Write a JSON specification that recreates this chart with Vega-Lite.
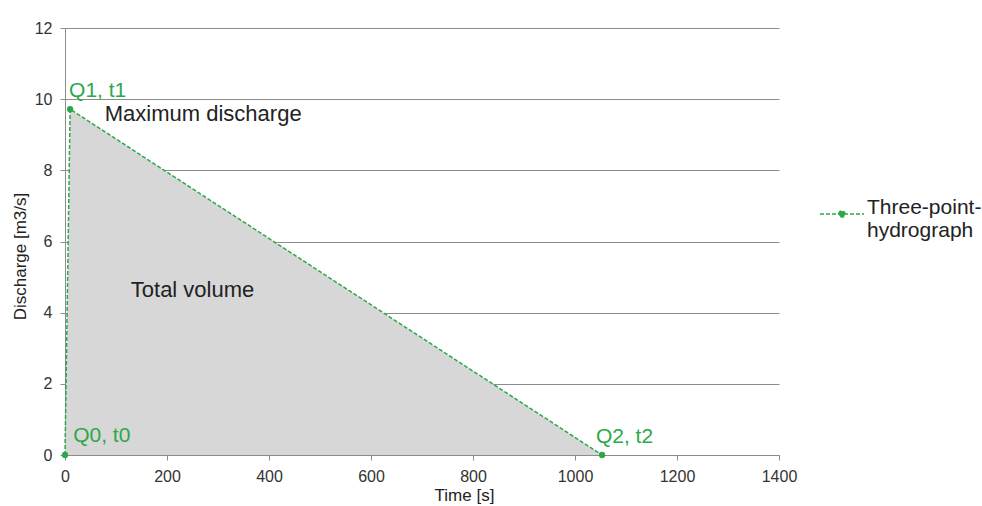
{
  "$schema": "https://vega.github.io/schema/vega-lite/v6.json",
  "width": 714,
  "height": 427,
  "autosize": "none",
  "padding": {"left": 65, "top": 28, "right": 203, "bottom": 51},
  "background": "white",
  "config": {
    "view": {"stroke": null},
    "font": "Liberation Sans",
    "axis": {
      "domainColor": "#8c8c8c",
      "tickColor": "#8c8c8c",
      "tickSize": 5,
      "labelFontSize": 16,
      "labelColor": "#333333",
      "labelPadding": 8,
      "labelFlush": false,
      "titleFontSize": 17,
      "titleFontWeight": "normal",
      "titleColor": "#222222",
      "zindex": 1
    }
  },
  "datasets": {
    "hydro": [
      {"t": 0, "q": 0, "series": "Three-point-hydrograph"},
      {"t": 10, "q": 9.72, "series": "Three-point-hydrograph"},
      {"t": 1053, "q": 0, "series": "Three-point-hydrograph"}
    ],
    "greenLabels": [
      {"t": 16, "q": 0.37, "label": "Q0, t0"},
      {"t": 8, "q": 10.07, "label": "Q1, t1"},
      {"t": 1041, "q": 0.33, "label": "Q2, t2"}
    ],
    "blackLabels": [
      {"t": 78, "q": 9.4, "label": "Maximum discharge"},
      {"t": 129, "q": 4.45, "label": "Total volume"}
    ]
  },
  "layer": [
    {
      "data": {"name": "hydro"},
      "mark": {"type": "area", "color": "#d7d7d7"},
      "encoding": {
        "x": {
          "field": "t", "type": "quantitative",
          "scale": {"domain": [0, 1400], "nice": false},
          "axis": {
            "values": [0, 200, 400, 600, 800, 1000, 1200, 1400],
            "format": "d",
            "grid": false,
            "title": "Time [s]",
            "titleX": 399, "titleY": 45,
            "titleBaseline": "alphabetic", "titleAlign": "center"
          }
        },
        "y": {
          "field": "q", "type": "quantitative",
          "scale": {"domain": [0, 12], "nice": false},
          "axis": {
            "values": [0, 2, 4, 6, 8, 10, 12],
            "grid": true,
            "gridColor": "#8c8c8c",
            "gridOpacity": 1,
            "title": "Discharge [m3/s]",
            "titleX": -45, "titleY": 228,
            "titleAngle": -90,
            "titleBaseline": "middle", "titleAlign": "center"
          }
        }
      }
    },
    {
      "data": {"name": "hydro"},
      "mark": {"type": "line", "strokeDash": [4, 2], "strokeWidth": 1.5},
      "encoding": {
        "x": {"field": "t", "type": "quantitative"},
        "y": {"field": "q", "type": "quantitative"},
        "color": {
          "field": "series", "type": "nominal",
          "scale": {"range": ["#2ca84a"]},
          "legend": {
            "orient": "none",
            "legendX": 754,
            "legendY": 163,
            "title": null,
            "padding": 0,
            "symbolType": "M-1,0H1M-0.14,0A0.14,0.14,0,1,1,0.14,0A0.14,0.14,0,1,1,-0.14,0",
            "symbolSize": 1936,
            "symbolStrokeWidth": 1.5,
            "symbolDash": [4, 2],
            "symbolFillColor": "#2ca84a",
            "labelFontSize": 21,
            "labelColor": "#222222",
            "labelExpr": "['Three-point-', 'hydrograph']",
            "labelBaseline": "alphabetic",
            "labelOffset": 2,
            "labelLimit": 400
          }
        }
      }
    },
    {
      "data": {"name": "hydro"},
      "mark": {"type": "point", "filled": true, "size": 40, "opacity": 1, "color": "#2ca84a"},
      "encoding": {
        "x": {"field": "t", "type": "quantitative"},
        "y": {"field": "q", "type": "quantitative"}
      }
    },
    {
      "data": {"name": "greenLabels"},
      "mark": {"type": "text", "align": "left", "baseline": "alphabetic", "fontSize": 21, "color": "#2ca84a"},
      "encoding": {
        "x": {"field": "t", "type": "quantitative"},
        "y": {"field": "q", "type": "quantitative"},
        "text": {"field": "label"}
      }
    },
    {
      "data": {"name": "blackLabels"},
      "mark": {"type": "text", "align": "left", "baseline": "alphabetic", "fontSize": 22, "color": "#222222"},
      "encoding": {
        "x": {"field": "t", "type": "quantitative"},
        "y": {"field": "q", "type": "quantitative"},
        "text": {"field": "label"}
      }
    }
  ]
}
